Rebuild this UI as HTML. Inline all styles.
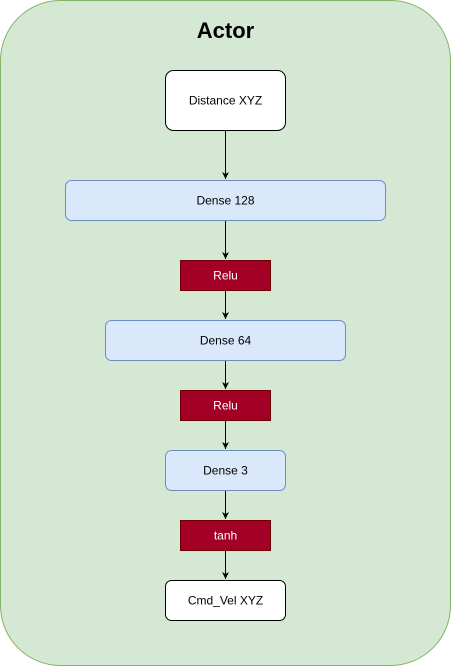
<!DOCTYPE html>
<html><head><style>body{margin:0;background:#fff}svg{display:block}</style></head><body>
<svg width="451" height="666" viewBox="0 0 451 666" xmlns="http://www.w3.org/2000/svg" font-family="Liberation Sans, sans-serif">
<defs><marker id="a" markerWidth="8" markerHeight="8" refX="7" refY="4" orient="auto" markerUnits="userSpaceOnUse"><path d="M0,0.5 L7,4 L0,7.5 L2,4 Z" fill="#000"/></marker></defs>
<rect x="0.5" y="0.5" width="450" height="665" rx="60" fill="#d5e8d4" stroke="#82b366"/>
<text x="225.5" y="38" text-anchor="middle" font-size="22" font-weight="bold">Actor</text>
<g stroke="#000" stroke-width="1" marker-end="url(#a)">
<line x1="225.5" y1="130" x2="225.5" y2="179"/>
<line x1="225.5" y1="220" x2="225.5" y2="259"/>
<line x1="225.5" y1="290" x2="225.5" y2="319"/>
<line x1="225.5" y1="360" x2="225.5" y2="389"/>
<line x1="225.5" y1="420" x2="225.5" y2="449"/>
<line x1="225.5" y1="490" x2="225.5" y2="519"/>
<line x1="225.5" y1="550" x2="225.5" y2="579"/>
</g>
<g font-size="12" text-anchor="middle">
<rect x="165.5" y="70.5" width="120" height="60" rx="8" fill="#fff" stroke="#000"/>
<text x="225.5" y="104.5">Distance XYZ</text>
<rect x="65.5" y="180.5" width="320" height="40" rx="6" fill="#dae8fc" stroke="#6c8ebf"/>
<text x="225.5" y="204.5">Dense 128</text>
<rect x="180.5" y="260.5" width="90" height="30" fill="#a20025" stroke="#6f0000"/>
<text x="225.5" y="279.5" fill="#fff">Relu</text>
<rect x="105.5" y="320.5" width="240" height="40" rx="6" fill="#dae8fc" stroke="#6c8ebf"/>
<text x="225.5" y="344.5">Dense 64</text>
<rect x="180.5" y="390.5" width="90" height="30" fill="#a20025" stroke="#6f0000"/>
<text x="225.5" y="409.5" fill="#fff">Relu</text>
<rect x="165.5" y="450.5" width="120" height="40" rx="6" fill="#dae8fc" stroke="#6c8ebf"/>
<text x="225.5" y="474.5">Dense 3</text>
<rect x="180.5" y="520.5" width="90" height="30" fill="#a20025" stroke="#6f0000"/>
<text x="225.5" y="539.5" fill="#fff">tanh</text>
<rect x="165.5" y="580.5" width="120" height="40" rx="6" fill="#fff" stroke="#000"/>
<text x="225.5" y="604.5">Cmd_Vel XYZ</text>
</g>
</svg>
</body></html>
